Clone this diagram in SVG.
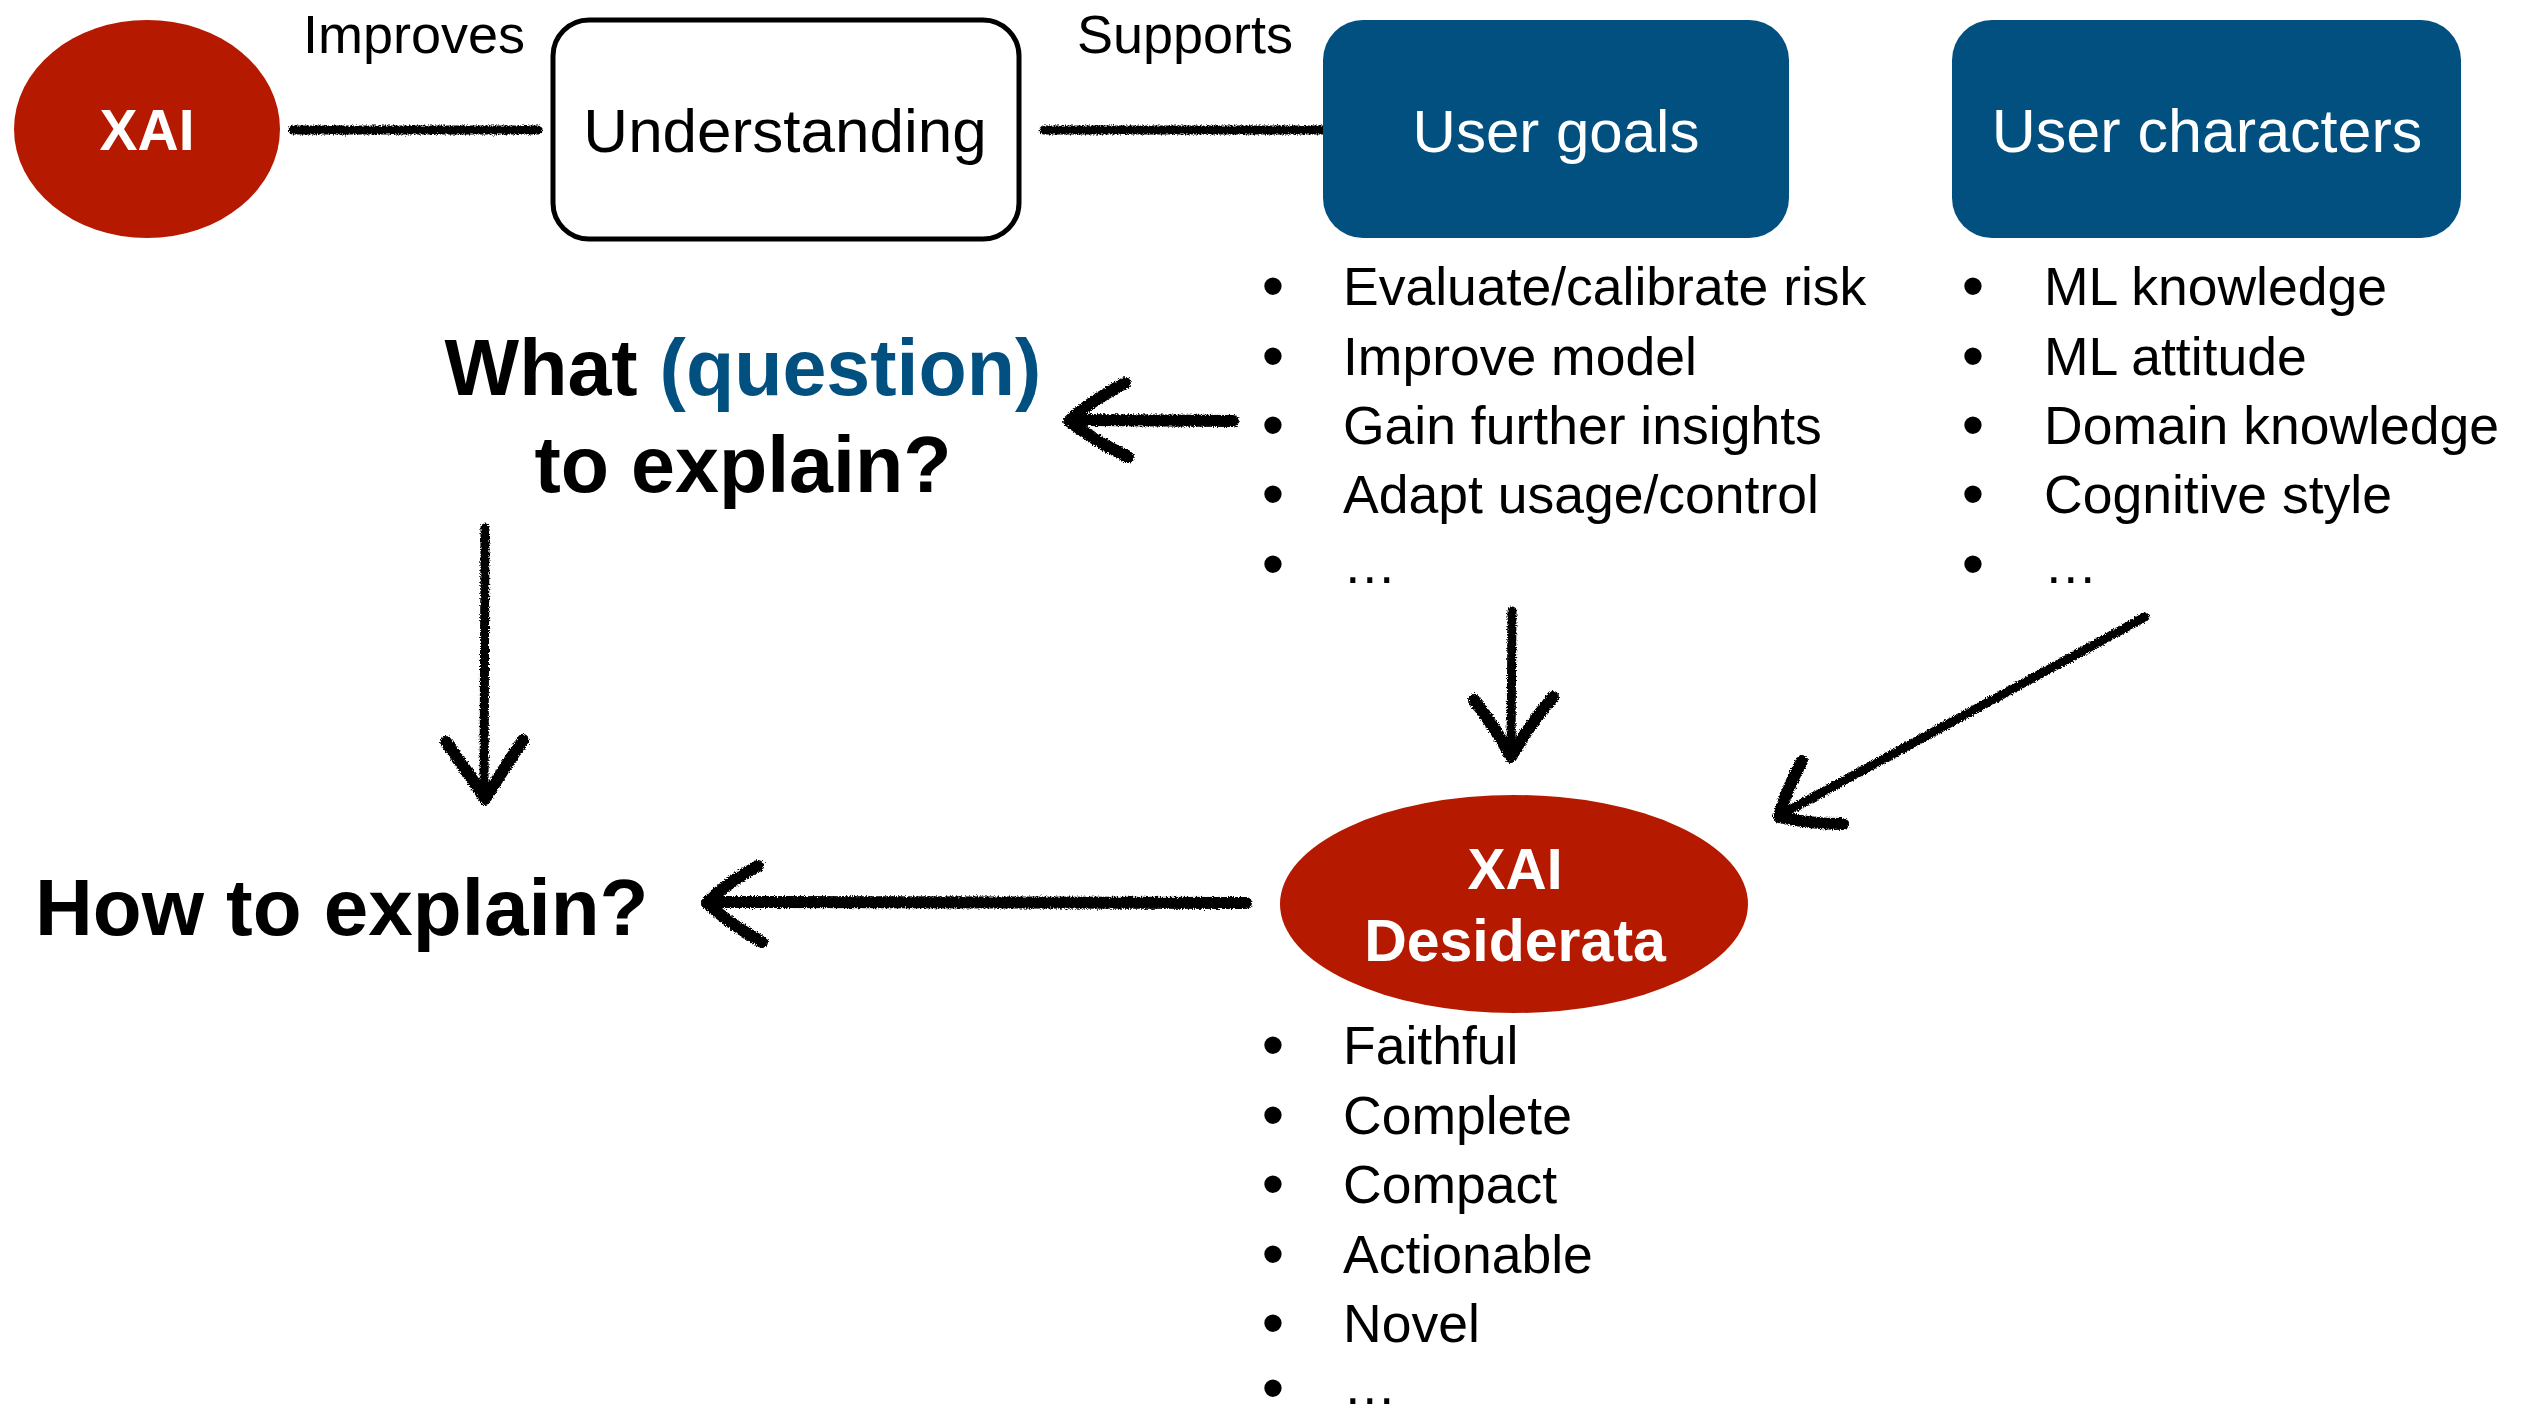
<svg xmlns="http://www.w3.org/2000/svg" width="2528" height="1411" viewBox="0 0 2528 1411">
  <defs>
    <!-- marker-like grainy look for hand-drawn strokes -->
    <filter id="rough" filterUnits="userSpaceOnUse" x="0" y="0" width="2528" height="1411">
      <feTurbulence type="fractalNoise" baseFrequency="0.75" numOctaves="2" seed="7" result="noise"/>
      <feDisplacementMap in="SourceGraphic" in2="noise" scale="5" xChannelSelector="R" yChannelSelector="G"/>
    </filter>
    <style>
      .red { fill: #B51A01; }
      .blue { fill: #02507F; }
      .frame { fill: #ffffff; stroke: #000000; stroke-width: 5; }
      .nodeTxt { font-family: "Liberation Sans", Arial, sans-serif; font-size: 61px; text-anchor: middle; }
      .white { fill: #ffffff; }
      .boldW { font-family: "Liberation Sans", Arial, sans-serif; font-weight: bold; font-size: 57px; fill: #ffffff; text-anchor: middle; }
      .edgeLbl { font-family: "Liberation Sans", Arial, sans-serif; font-size: 54px; fill: #000000; text-anchor: middle; }
      .item { font-family: "Liberation Sans", Arial, sans-serif; font-size: 53.5px; fill: #000000; }
      .bul { text-anchor: middle; font-size: 64px; }
      .head { font-family: "Liberation Sans", Arial, sans-serif; font-weight: bold; font-size: 80px; fill: #000000; }
      .stroke { fill: none; stroke: #000000; stroke-width: 12; stroke-linecap: round; stroke-linejoin: round; }
      .thin { stroke-width: 9; }
    </style>
  </defs>

  <rect width="2528" height="1411" fill="#ffffff"/>

  <!-- hand-drawn connectors -->
  <g id="connectors" filter="url(#rough)">
    <!-- XAI — Understanding -->
    <path class="stroke thin" d="M293,130 L538,130"/>
    <!-- Understanding — User goals -->
    <path class="stroke thin" d="M1044,130 L1331,130"/>
    <!-- User goals -> What (question) -->
    <path class="stroke" d="M1233,421 L1084,420"/>
    <path class="stroke" d="M1125,383 Q1086,404 1069,421 Q1093,440 1128,457"/>
    <!-- What (question) -> How to explain? -->
    <path class="stroke thin" d="M485,528 L484,795"/>
    <path class="stroke" d="M446,742 Q470,775 485,799 Q503,770 523,740"/>
    <!-- User goals -> XAI Desiderata -->
    <path class="stroke thin" d="M1512,611 L1511,752"/>
    <path class="stroke" d="M1474,700 Q1497,730 1511,757 Q1529,725 1553,697"/>
    <!-- User characters -> XAI Desiderata -->
    <path class="stroke thin" d="M2145,617 L1786,812"/>
    <path class="stroke" d="M1802,761 Q1786,790 1779,817 Q1810,824 1843,824"/>
    <!-- XAI Desiderata -> How to explain? -->
    <path class="stroke" d="M1246,903 L720,902"/>
    <path class="stroke" d="M758,866 Q722,886 707,903 Q728,923 762,942"/>
  </g>

  <!-- edge labels -->
  <text class="edgeLbl" x="414" y="53">Improves</text>
  <text class="edgeLbl" x="1185" y="53">Supports</text>

  <g id="xai">
    <ellipse class="red" cx="147" cy="129" rx="133" ry="109"/>
    <text class="boldW" x="147" y="150">XAI</text>
  </g>

  <g id="understanding">
    <rect class="frame" x="553" y="20" width="466" height="219" rx="36"/>
    <text class="nodeTxt" x="785" y="152" style="font-size:62px">Understanding</text>
  </g>

  <g id="user-goals">
    <rect class="blue" x="1323" y="20" width="466" height="218" rx="40"/>
    <text class="nodeTxt white" x="1556" y="152" style="font-size:60px">User goals</text>
    <text class="item"><tspan class="bul" x="1273" y="308">•</tspan><tspan x="1343" y="305">Evaluate/calibrate risk</tspan></text>
    <text class="item"><tspan class="bul" x="1273" y="378">•</tspan><tspan x="1343" y="375">Improve model</tspan></text>
    <text class="item"><tspan class="bul" x="1273" y="447">•</tspan><tspan x="1343" y="444">Gain further insights</tspan></text>
    <text class="item"><tspan class="bul" x="1273" y="516">•</tspan><tspan x="1343" y="513">Adapt usage/control</tspan></text>
    <text class="item"><tspan class="bul" x="1273" y="586">•</tspan><tspan x="1343" y="583">…</tspan></text>
  </g>

  <g id="user-characters">
    <rect class="blue" x="1952" y="20" width="509" height="218" rx="40"/>
    <text class="nodeTxt white" x="2207" y="152">User characters</text>
    <text class="item"><tspan class="bul" x="1973" y="308">•</tspan><tspan x="2044" y="305">ML knowledge</tspan></text>
    <text class="item"><tspan class="bul" x="1973" y="378">•</tspan><tspan x="2044" y="375">ML attitude</tspan></text>
    <text class="item"><tspan class="bul" x="1973" y="447">•</tspan><tspan x="2044" y="444">Domain knowledge</tspan></text>
    <text class="item"><tspan class="bul" x="1973" y="516">•</tspan><tspan x="2044" y="513">Cognitive style</tspan></text>
    <text class="item"><tspan class="bul" x="1973" y="586">•</tspan><tspan x="2044" y="583">…</tspan></text>
  </g>

  <g id="what-question">
    <text class="head" x="743" y="395" text-anchor="middle" style="font-size:79px">What <tspan fill="#02507F">(question)</tspan></text>
    <text class="head" x="743" y="492" text-anchor="middle" style="font-size:79px">to explain?</text>
  </g>

  <g id="how-to-explain">
    <text class="head" x="35" y="935">How to explain?</text>
  </g>

  <g id="xai-desiderata">
    <ellipse class="red" cx="1514" cy="904" rx="234" ry="109"/>
    <text class="boldW" x="1515" y="889">XAI</text>
    <text class="boldW" x="1515" y="961" style="font-size:59px">Desiderata</text>
    <text class="item"><tspan class="bul" x="1273" y="1067">•</tspan><tspan x="1343" y="1064">Faithful</tspan></text>
    <text class="item"><tspan class="bul" x="1273" y="1137">•</tspan><tspan x="1343" y="1134">Complete</tspan></text>
    <text class="item"><tspan class="bul" x="1273" y="1206">•</tspan><tspan x="1343" y="1203">Compact</tspan></text>
    <text class="item"><tspan class="bul" x="1273" y="1276">•</tspan><tspan x="1343" y="1273">Actionable</tspan></text>
    <text class="item"><tspan class="bul" x="1273" y="1345">•</tspan><tspan x="1343" y="1342">Novel</tspan></text>
    <text class="item"><tspan class="bul" x="1273" y="1410">•</tspan><tspan x="1343" y="1404">…</tspan></text>
  </g>
</svg>
